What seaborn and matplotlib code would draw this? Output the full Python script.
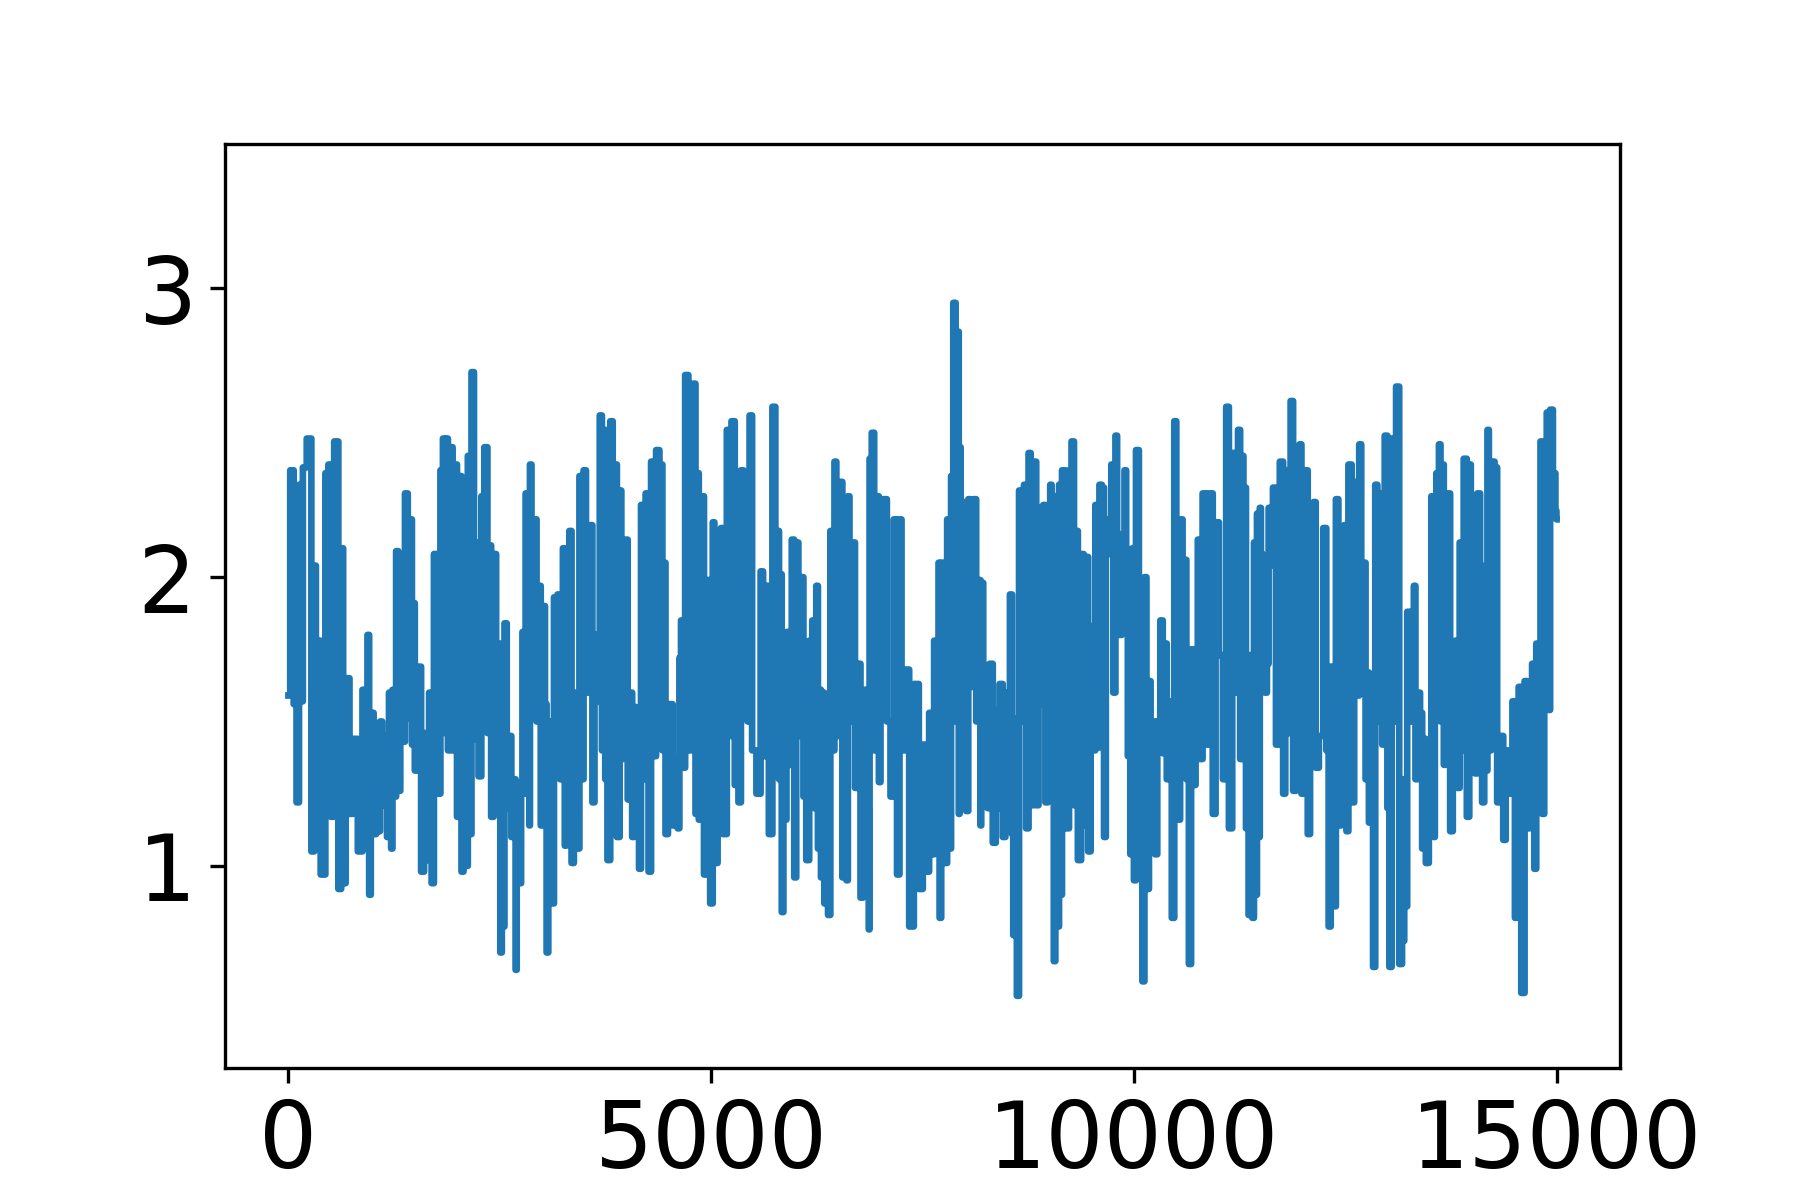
import numpy as np
import pandas as pd
import matplotlib
matplotlib.use("Agg")
import matplotlib.pyplot as plt
import seaborn as sns

# Series, segment by segment (x position, value)
seg1_x = [0, 43, 82, 110, 141, 161, 181, 252, 291, 319,
          331, 346, 417, 457, 488, 516, 567, 614, 634, 661,
          693, 752, 772, 870, 882, 921, 949, 961, 988, 1028,
          1048, 1067, 1099, 1119, 1158, 1174, 1205, 1225, 1237, 1264,
          1284, 1316, 1331, 1355, 1402, 1422, 1449, 1473, 1489, 1501,
          1540, 1599, 1611, 1658, 1670, 1717, 1725, 1788, 1808, 1847]
seg1_y = [1.59, 2.37, 1.56, 1.22, 2.32, 1.57, 2.38, 2.48, 1.05, 2.04,
          1.30, 1.78, 0.97, 2.36, 2.39, 1.17, 2.47, 0.92, 2.10, 0.94,
          1.65, 1.18, 1.44, 1.05, 1.61, 1.11, 1.80, 0.90, 1.53, 1.11,
          1.42, 1.12, 1.50, 1.21, 1.45, 1.10, 1.60, 1.06, 1.61, 1.24,
          2.09, 1.26, 1.97, 1.43, 2.29, 1.51, 2.20, 1.42, 1.91, 1.33,
          1.69, 0.98, 1.46, 1.02, 1.60, 0.94, 2.08, 1.25, 2.37, 2.48]

seg2_x = [1856, 1868, 1905, 1923, 1962, 1974, 2014, 2033, 2061, 2081,
          2112, 2132, 2152, 2179, 2211, 2219, 2278, 2286, 2348, 2360,
          2388, 2408, 2447, 2467, 2498, 2514, 2535, 2546, 2565, 2600,
          2624, 2650, 2683, 2691, 2710, 2743, 2762, 2774, 2790, 2821,
          2845, 2853, 2861, 2890, 2920, 2950, 2979, 2990, 3020, 3050,
          3058, 3090, 3137, 3145, 3170, 3196, 3230, 3263, 3275, 3300,
          3345, 3353, 3400, 3432, 3452, 3483, 3499, 3540, 3590, 3601,
          3640, 3669, 3696, 3720, 3735]
seg2_y = [1.46, 2.48, 1.40, 2.45, 1.40, 2.39, 1.17, 2.35, 0.98, 2.29,
          1.00, 2.42, 1.11, 2.71, 1.44, 2.12, 1.31, 2.28, 2.45, 1.46,
          2.11, 1.17, 2.08, 1.27, 1.77, 0.70, 1.60, 0.79, 1.84, 1.20,
          1.45, 1.10, 1.30, 0.64, 1.25, 0.94, 1.29, 1.81, 1.25, 2.29,
          1.60, 1.14, 2.39, 1.70, 2.20, 1.50, 1.97, 1.14, 1.90, 1.56,
          0.70, 1.50, 0.87, 1.93, 1.40, 1.94, 1.30, 2.10, 1.07, 1.90,
          2.16, 1.01, 1.60, 1.06, 2.35, 1.30, 2.37, 1.60, 2.18, 1.22,
          1.80, 1.57, 2.56, 1.40, 2.51]

seg3_x = [3760, 3787, 3826, 3846, 3865, 3905, 3932, 3944, 3980, 4003,
          4023, 4050, 4082, 4100, 4133, 4161, 4180, 4210, 4240, 4279,
          4300, 4338, 4360, 4417, 4430, 4456, 4464, 4515, 4575, 4594,
          4615, 4634, 4653, 4673, 4712, 4750, 4770, 4799, 4831, 4838,
          4870, 4902, 4929, 4969, 5008, 5030, 5047, 5106, 5126, 5154,
          5217, 5225, 5256, 5303, 5343, 5362, 5402, 5422, 5440, 5469,
          5500, 5571, 5599, 5630]
seg3_y = [1.30, 1.02, 2.54, 1.24, 2.39, 1.10, 2.30, 1.37, 1.60, 2.13,
          1.23, 1.60, 1.10, 1.55, 1.35, 0.99, 2.25, 1.30, 2.29, 0.98,
          2.40, 1.38, 2.44, 2.39, 1.40, 2.05, 1.11, 1.56, 1.14, 1.37,
          1.13, 1.72, 1.85, 1.34, 2.70, 1.40, 2.60, 2.67, 1.18, 2.36,
          1.16, 2.28, 0.97, 1.99, 0.87, 2.19, 1.01, 1.72, 2.17, 1.11,
          2.51, 1.45, 2.54, 1.28, 1.22, 2.37, 2.16, 1.88, 1.50, 2.56,
          1.40, 1.25, 2.02, 1.38]

seg4_x = [5660, 5705, 5744, 5775, 5796, 5810, 5823, 5847, 5863, 5880,
          5902, 5934, 5973, 5993, 6020, 6044, 6083, 6100, 6150, 6170,
          6190, 6202, 6230, 6257, 6269, 6290, 6308, 6330, 6347, 6359,
          6406, 6414, 6440, 6477, 6485, 6540, 6564, 6590, 6611, 6623, 6650,
          6674, 6729, 6741, 6792, 6800, 6832, 6860, 6868, 6880, 6919,
          6938, 6978, 6990, 7017, 7057, 7100, 7143, 7175, 7222, 7234,
          7270, 7313, 7372, 7423, 7490, 7517]
seg4_y = [1.97, 1.11, 2.59, 1.40, 2.16, 1.30, 2.01, 0.84, 1.49, 1.16,
          1.81, 1.35, 2.13, 0.96, 2.12, 1.45, 2.00, 1.24, 1.02, 1.78,
          1.30, 1.85, 1.20, 1.97, 1.06, 1.61, 0.96, 1.60, 0.87, 1.57,
          0.83, 2.16, 1.40, 2.40, 1.45, 2.33, 0.96, 1.90, 0.95, 2.28, 1.50,
          2.12, 1.27, 1.70, 0.89, 1.57, 1.61, 1.20, 0.78, 2.41, 2.50,
          1.40, 2.28, 1.29, 1.61, 2.27, 1.50, 1.24, 2.20, 0.97, 2.20,
          1.40, 1.68, 0.79, 1.63, 0.92, 1.42]

seg5_x = [7529, 7549, 7608, 7628, 7647, 7680, 7699, 7705, 7738, 7766,
          7817, 7832, 7844, 7884, 7900, 7923, 7935, 7943, 7960, 7982,
          8010, 8022, 8061, 8081, 8120, 8150, 8179, 8191, 8199, 8238,
          8258, 8280, 8305, 8357, 8376, 8400, 8423, 8475, 8487, 8514,
          8554, 8565, 8581, 8600, 8632, 8652, 8690, 8711, 8739, 8770,
          8790, 8841, 8849, 8896, 8908, 8948, 8959, 9007, 9014, 9040,
          9066, 9077, 9105, 9125, 9144, 9156, 9223, 9243, 9282, 9302,
          9322, 9353, 9400, 9412]
seg5_y = [1.42, 0.98, 1.53, 1.04, 1.78, 1.30, 2.05, 0.82, 2.05, 1.01,
          2.20, 1.06, 2.35, 2.95, 1.50, 2.85, 1.18, 2.45, 1.40, 2.26,
          2.12, 1.19, 2.27, 1.62, 2.27, 1.50, 1.99, 1.14, 1.98, 1.24,
          1.61, 1.20, 1.70, 1.08, 1.54, 1.20, 1.63, 1.10, 1.60, 1.14,
          1.94, 1.11, 0.76, 1.51, 0.55, 2.30, 1.50, 2.32, 1.13, 2.43,
          1.21, 2.40, 1.21, 2.24, 1.56, 2.25, 1.22, 2.09, 2.32, 1.40,
          0.67, 2.28, 0.79, 2.32, 0.90, 2.37, 1.13, 2.37, 2.47, 1.21,
          2.16, 1.02, 2.08, 1.14]

seg6_x = [9420, 9440, 9479, 9499, 9530, 9558, 9580, 9605, 9637, 9657,
          9680, 9723, 9743, 9770, 9794, 9810, 9840, 9873, 9905, 9913,
          9944, 9972, 9990, 10011, 10039, 10080, 10121, 10129, 10169, 10188,
          10208, 10236, 10267, 10287, 10338, 10346, 10385, 10393, 10425, 10472,
          10484, 10520, 10543, 10551, 10602, 10640, 10661, 10693, 10720, 10740,
          10772, 10787, 10839, 10878, 10909, 10957, 10976, 11036, 11070, 11114,
          11134, 11193, 11220, 11244, 11270, 11292]
seg6_y = [1.14, 2.07, 1.05, 1.83, 1.40, 2.25, 1.41, 2.32, 2.31, 1.10,
          2.20, 2.08, 2.39, 1.60, 2.49, 2.15, 1.80, 2.04, 2.37, 1.99,
          1.38, 1.04, 2.10, 0.95, 2.44, 1.50, 0.60, 2.00, 0.92, 1.64,
          1.32, 1.50, 1.04, 1.50, 1.85, 1.39, 1.77, 1.30, 1.57, 0.82,
          2.54, 1.40, 1.16, 2.20, 2.06, 1.30, 0.66, 1.75, 1.28, 1.69,
          2.13, 1.37, 2.29, 1.42, 2.29, 1.18, 2.19, 1.73, 1.30, 2.59,
          1.13, 2.43, 1.60, 2.51, 1.37, 2.42]

seg7_x = [11300, 11320, 11332, 11350, 11363, 11391, 11411, 11430, 11442, 11470,
          11482, 11497, 11509, 11537, 11560, 11588, 11600, 11635, 11655, 11706,
          11746, 11785, 11797, 11844, 11864, 11903, 11931, 11950, 11970, 11994,
          12033, 12080, 12088, 12110, 12143, 12159, 12218, 12262, 12290, 12317,
          12340, 12376, 12403, 12435, 12467, 12506, 12522, 12553, 12600, 12612,
          12652, 12679, 12700, 12731, 12750, 12770, 12790, 12809, 12849, 12861,
          12900, 12928, 12947, 12987, 13010, 13034, 13065, 13090, 13113]
seg7_y = [1.37, 2.31, 1.13, 1.73, 0.83, 1.73, 0.82, 2.12, 0.90, 2.22,
          1.10, 2.24, 2.08, 2.02, 1.60, 1.70, 2.24, 2.04, 2.31, 1.42,
          2.40, 1.25, 2.37, 1.46, 2.61, 1.26, 2.09, 1.30, 2.46, 1.25,
          2.37, 1.11, 2.22, 1.50, 2.26, 1.34, 1.45, 2.17, 1.40, 0.79,
          1.69, 0.86, 2.27, 1.14, 2.13, 2.18, 1.12, 2.39, 1.22, 2.33,
          1.59, 2.46, 1.60, 2.05, 1.30, 1.67, 1.15, 1.55, 0.65, 2.32,
          1.50, 2.29, 1.42, 2.49, 1.20, 0.65, 2.48, 1.50, 2.66]

seg8_x = [13164, 13180, 13191, 13205, 13223, 13243, 13262, 13280, 13302, 13321,
          13340, 13370, 13400, 13420, 13428, 13479, 13499, 13538, 13550, 13570,
          13585, 13600, 13617, 13637, 13656, 13676, 13700, 13727, 13755, 13790,
          13814, 13834, 13873, 13890, 13912, 13964, 13971, 14000, 14031, 14042,
          14082, 14109, 14129, 14160, 14176, 14188, 14210, 14239, 14294, 14300,
          14365, 14373, 14424, 14452, 14503, 14511, 14540, 14562, 14602, 14641,
          14661, 14700, 14720, 14752, 14767, 14800, 14819, 14838, 14870, 14897,
          14910, 14937, 14976, 14996, 15000]
seg8_y = [0.66, 1.30, 0.74, 1.19, 0.86, 1.88, 1.88, 1.50, 1.60, 1.97,
          1.30, 1.60, 1.53, 1.06, 1.44, 1.01, 1.23, 2.28, 1.10, 2.28,
          2.36, 1.80, 2.46, 1.50, 2.39, 1.35, 1.60, 2.29, 1.12, 1.50,
          1.78, 1.27, 2.12, 1.40, 2.41, 1.17, 2.39, 1.50, 2.23, 1.32,
          2.29, 2.04, 1.22, 1.80, 1.33, 2.51, 1.40, 2.40, 2.38, 1.22,
          1.45, 1.09, 1.40, 1.25, 1.57, 0.82, 1.50, 1.62, 0.56, 1.64,
          1.13, 1.60, 1.70, 0.99, 1.77, 1.50, 2.47, 1.18, 2.10, 2.57,
          1.54, 2.58, 2.36, 2.23, 2.20]

x_ticks = [0, 5000, 10000, 15000]
y_ticks = [1, 2, 3]

segments = [(seg1_x, seg1_y), (seg2_x, seg2_y), (seg3_x, seg3_y), (seg4_x, seg4_y),
            (seg5_x, seg5_y), (seg6_x, seg6_y), (seg7_x, seg7_y), (seg8_x, seg8_y)]
xs, ys = [], []
for sx, sy in segments:
    n = min(len(sx), len(sy))
    xs.extend(sx[:n])
    ys.extend(sy[:n])
df = pd.DataFrame({"x": xs, "y": ys})

fig, ax = plt.subplots(figsize=(6, 4), dpi=300)
sns.lineplot(data=df, x="x", y="y", ax=ax, color="#1f77b4", linewidth=1.6,
             estimator=None, sort=True, drawstyle="steps-mid")
ax.set_xlabel("")
ax.set_ylabel("")
ax.set_ylim(0.30, 3.50)
ax.set_xticks(x_ticks)
ax.set_yticks(y_ticks)
ax.tick_params(axis="both", labelsize=22)
fig.savefig("out.png", dpi=300)
